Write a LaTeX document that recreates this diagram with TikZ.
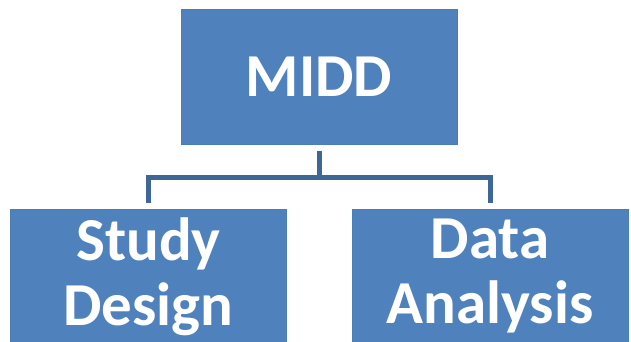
\documentclass[tikz,border=0pt]{standalone}
\usepackage{fontspec}
\setmainfont{Carlito}
\definecolor{boxblue}{HTML}{4F81BD}
\definecolor{boxedge}{HTML}{4A7EBB}
\definecolor{linkblue}{HTML}{3D6797}
\tikzset{
  topic/.style={draw=boxedge, fill=boxblue, text=white, line width=1pt,
    minimum width=276pt, minimum height=135pt, align=center, inner sep=0pt,
    font=\bfseries\fontsize{61}{65}\selectfont},
  link/.style={linkblue, line width=5pt}
}
\begin{document}
\begin{tikzpicture}[x=1pt, y=1pt]
        \useasboundingbox (0,0) rectangle (631,-341);
        \clip (0,0) rectangle (631,-341);
        % Boxes
        \node[topic] (midd) at (319,-76.5) {MIDD};
        \node[topic] (study) at (148.5,-276.5) {Study\\Design};
        \node[topic] (analysis) at (490,-276.5) {Data\\Analysis};
        % Tree connectors
        \coordinate (hub) at (319,-177);
        \draw[link, shorten <=6pt] (midd.south) -- (hub);
        \draw[link, shorten <=6pt, shorten >=6pt] (study.north) |- (hub) -| (analysis.north);
    \end{tikzpicture}
\end{document}
